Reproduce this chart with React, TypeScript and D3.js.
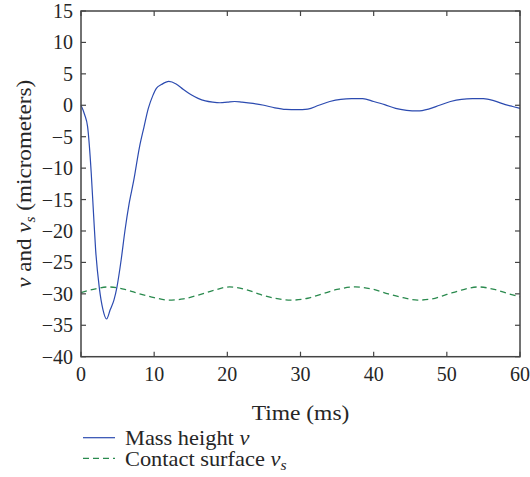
import React from "react";
import * as d3 from "d3";

const massT = [0, 0.5, 0.9, 1.4, 1.7, 2.0, 2.5, 3.0, 3.5, 4.0, 4.5, 4.9, 5.5, 6.0, 6.6, 7.2, 8.0, 8.6, 9.2, 9.8, 10.3, 11.0, 12.0, 13.0, 14.0, 15.0, 16.0, 17.0, 18.0, 19.0, 20.0, 21.0, 22.0, 23.5, 25.0, 26.5, 28.0, 29.5, 31.0, 32.5, 34.0, 35.5, 37.0, 38.5, 40.0, 41.5, 43.0, 44.5, 46.0, 47.5, 49.0, 50.5, 52.0, 53.5, 55.0, 56.5, 58.0, 59.0, 60.0];
const massV = [0, -1.5, -3.4, -10.8, -17, -23, -29, -32.5, -34, -32.5, -31, -29, -24.5, -20, -15.5, -12, -6.6, -3.5, -0.5, 1.5, 2.7, 3.3, 3.8, 3.4, 2.5, 1.7, 1.1, 0.7, 0.5, 0.4, 0.5, 0.6, 0.5, 0.3, 0, -0.4, -0.65, -0.7, -0.6, 0, 0.6, 0.95, 1.05, 1.05, 0.6, 0.1, -0.5, -0.8, -0.9, -0.6, 0, 0.6, 0.95, 1.05, 1.05, 0.7, 0.1, -0.2, -0.5];

const surfT = [0, 2, 3.7, 6, 8, 10, 12, 14, 16, 18, 20.3, 22.5, 24.5, 26.5, 28.7, 31, 33, 35, 37.5, 40, 42, 44, 46, 48, 50, 52, 54.3, 56.5, 58.5, 60];
const surfV = [-29.8, -29.2, -28.9, -29.3, -30.0, -30.6, -31.0, -30.8, -30.2, -29.5, -28.9, -29.3, -30.1, -30.7, -31.0, -30.7, -30.0, -29.3, -28.9, -29.3, -30.0, -30.6, -31.0, -30.8, -30.1, -29.4, -28.9, -29.3, -30.0, -30.5];

const xTicks = [0, 10, 20, 30, 40, 50, 60];
const yTicks = [15, 10, 5, 0, -5, -10, -15, -20, -25, -30, -35, -40];

const W = 530, H = 477;
const L = 81, R = 520, T = 11, B = 356.7;
const FONT = "'Liberation Serif', 'DejaVu Serif', serif";
const TXT = "#262626";
const AX = "#444";
const BLUE = "#2c4bb0";
const GREEN = "#2a8a4e";

export default function App() {
  const x = d3.scaleLinear().domain([0, 60]).range([L, R]);
  const y = d3.scaleLinear().domain([-40, 15]).range([B, T]);
  const line = d3.line<[number, number]>().x(d => x(d[0])).y(d => y(d[1])).curve(d3.curveMonotoneX);
  const massPath = line(massT.map((t, i) => [t, massV[i]] as [number, number])) || "";
  const surfPath = line(surfT.map((t, i) => [t, surfV[i]] as [number, number])) || "";
  const fmt = (v: number) => (v < 0 ? "\u2212" + Math.abs(v) : String(v));
  const tk = 5;
  return (
    <svg width={W} height={H} style={{ position: "absolute", left: 0, top: 0, background: "#fff" }} fontFamily={FONT}>
      <rect x={0} y={0} width={W} height={H} fill="#fff" />
      <path d={surfPath} fill="none" stroke={GREEN} strokeWidth={1.3} strokeDasharray="6,4" />
      <path d={massPath} fill="none" stroke={BLUE} strokeWidth={1.2} />
      <rect x={L} y={T} width={R - L} height={B - T} fill="none" stroke={AX} strokeWidth={1.5} />
      {xTicks.map(v => (
        <g key={"x" + v}>
          <line x1={x(v)} x2={x(v)} y1={B} y2={B - tk} stroke={AX} strokeWidth={1.2} />
          <line x1={x(v)} x2={x(v)} y1={T} y2={T + tk} stroke={AX} strokeWidth={1.2} />
          <text x={x(v)} y={381} textAnchor="middle" fontSize={20} fill={TXT}>{fmt(v)}</text>
        </g>
      ))}
      {yTicks.map(v => (
        <g key={"y" + v}>
          <line x1={L} x2={L + tk} y1={y(v)} y2={y(v)} stroke={AX} strokeWidth={1.2} />
          <line x1={R} x2={R - tk} y1={y(v)} y2={y(v)} stroke={AX} strokeWidth={1.2} />
          <text x={73} y={y(v)} dy="0.35em" textAnchor="end" fontSize={20} fill={TXT}>{fmt(v)}</text>
        </g>
      ))}
      <text transform={`translate(${(L + R) / 2},420) scale(1.12,1)`} textAnchor="middle" fontSize={21} fill={TXT}>Time (ms)</text>
      <text transform={`translate(31,${(T + B) / 2}) rotate(-90) scale(1.1,1)`} textAnchor="middle" fontSize={21} fill={TXT}>
        <tspan fontStyle="italic">v</tspan> and <tspan fontStyle="italic">v</tspan><tspan fontStyle="italic" fontSize={14} dy={4}>s</tspan><tspan dy={-4}> (micrometers)</tspan>
      </text>
      <line x1={83} x2={115} y1={437.7} y2={437.7} stroke={BLUE} strokeWidth={1.2} />
      <text transform="translate(125,445) scale(1.12,1)" fontSize={20} fill={TXT}>Mass height <tspan fontStyle="italic">v</tspan></text>
      <line x1={83} x2={115} y1={458.3} y2={458.3} stroke={GREEN} strokeWidth={1.3} strokeDasharray="6,4" />
      <text transform="translate(125,466) scale(1.12,1)" fontSize={20} fill={TXT}>Contact surface <tspan fontStyle="italic">v</tspan><tspan fontStyle="italic" fontSize={14} dy={4}>s</tspan></text>
    </svg>
  );
}
